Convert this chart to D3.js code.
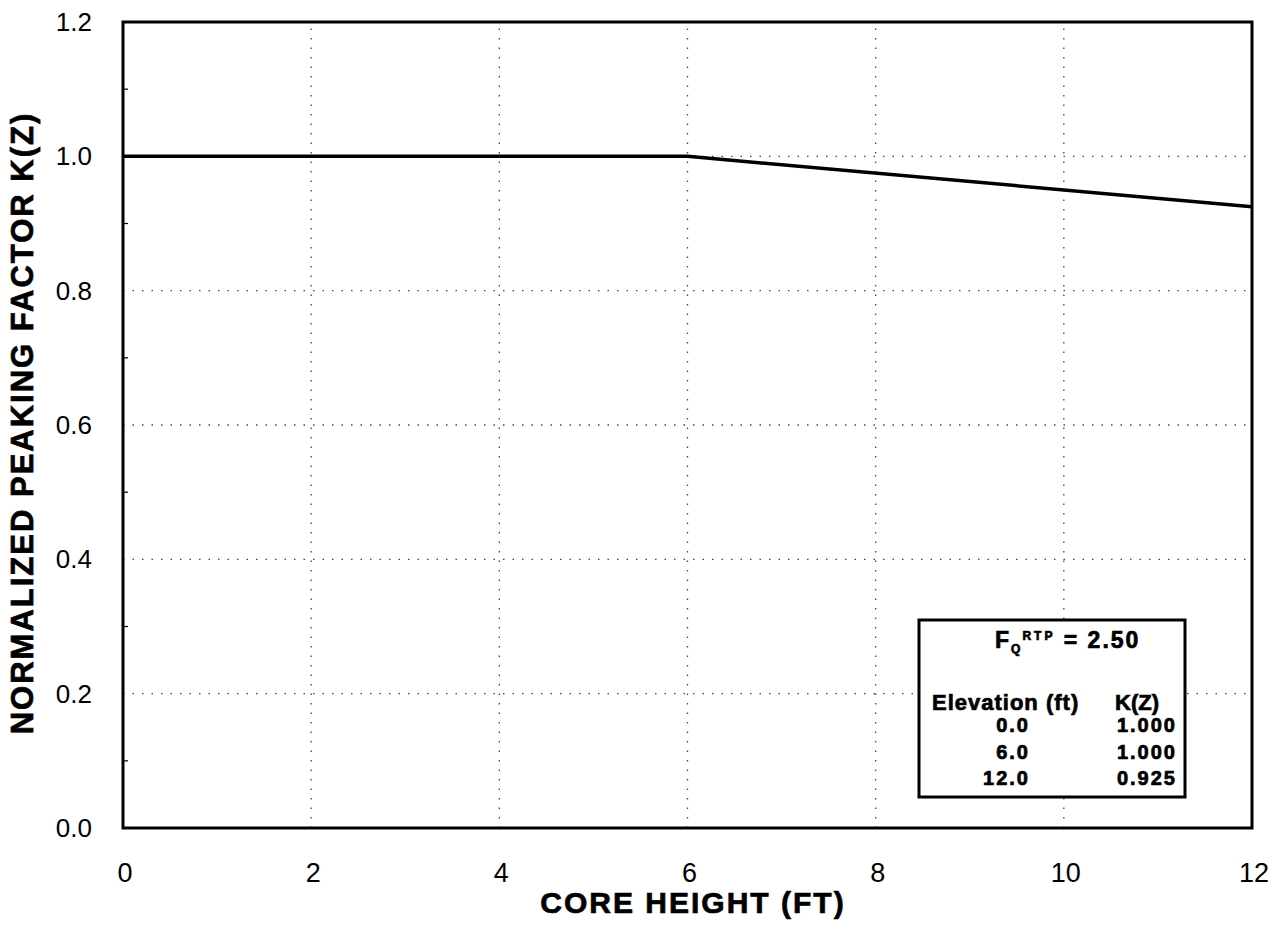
<!DOCTYPE html>
<html>
<head>
<meta charset="utf-8">
<script src="https://cdn.jsdelivr.net/npm/d3@7"></script>
<style>
  html, body { margin: 0; padding: 0; background: #fff; }
  svg text { font-family: "Liberation Sans", Arial, sans-serif; fill: #000; }
  svg text.heavy { stroke: #000; stroke-width: 0.7px; }
</style>
</head>
<body>
<div id="chart"></div>
<script>
// data
const elevations = [0, 6, 12];
const kzValues = [1.0, 1.0, 0.925];
const xTicks = [0, 2, 4, 6, 8, 10, 12];
const yTicks = [0.0, 0.2, 0.4, 0.6, 0.8, 1.0, 1.2];
const yMinorTicks = [0.1, 0.3, 0.5, 0.7, 0.9, 1.1];
const tableHeader = ['Elevation (ft)', 'K(Z)'];
const fqValue = '2.50';

const width = 1276, height = 943;
const margin = { top: 22, right: 24, bottom: 115, left: 123 };

const svg = d3.select('#chart').append('svg')
  .attr('width', width)
  .attr('height', height);

const x = d3.scaleLinear().domain([0, 12]).range([margin.left, width - margin.right]);
const y = d3.scaleLinear().domain([0, 1.2]).range([height - margin.bottom, margin.top]);

// dotted grid
svg.append('g')
  .selectAll('line')
  .data(xTicks.slice(1, -1))
  .join('line')
  .attr('x1', d => x(d)).attr('x2', d => x(d))
  .attr('y1', y(0)).attr('y2', y(1.2))
  .attr('stroke', '#444')
  .attr('stroke-width', 1.3)
  .attr('stroke-dasharray', '1.5,8');

svg.append('g')
  .selectAll('line')
  .data(yTicks.slice(1, -1))
  .join('line')
  .attr('x1', x(0)).attr('x2', x(12))
  .attr('y1', d => y(d)).attr('y2', d => y(d))
  .attr('stroke', '#444')
  .attr('stroke-width', 1.3)
  .attr('stroke-dasharray', '1.5,8');

// minor ticks on y axis (inside)
svg.append('g')
  .selectAll('line')
  .data(yMinorTicks)
  .join('line')
  .attr('x1', x(0)).attr('x2', x(0) + 5)
  .attr('y1', d => y(d)).attr('y2', d => y(d))
  .attr('stroke', '#000')
  .attr('stroke-width', 1.2);

// frame
svg.append('rect')
  .attr('x', x(0))
  .attr('y', y(1.2))
  .attr('width', x(12) - x(0))
  .attr('height', y(0) - y(1.2))
  .attr('fill', 'none')
  .attr('stroke', '#000')
  .attr('stroke-width', 3);

// data line
const line = d3.line()
  .x((d, i) => x(elevations[i]))
  .y(d => y(d));

svg.append('path')
  .datum(kzValues)
  .attr('d', line)
  .attr('fill', 'none')
  .attr('stroke', '#000')
  .attr('stroke-width', 3.5);

// tick labels
svg.append('g')
  .selectAll('text')
  .data(xTicks)
  .join('text')
  .attr('x', d => x(d) + 2)
  .attr('y', y(0) + 54)
  .attr('text-anchor', 'middle')
  .style('font-size', '27px')
  .text(d => d);

svg.append('g')
  .selectAll('text')
  .data(yTicks)
  .join('text')
  .attr('x', x(0) - 31)
  .attr('y', d => y(d) + 9)
  .attr('text-anchor', 'end')
  .style('font-size', '26px')
  .text(d => d.toFixed(1));

// axis titles
svg.append('text')
  .attr('class', 'heavy')
  .attr('x', 693)
  .attr('y', 913)
  .attr('text-anchor', 'middle')
  .style('font-size', '30px')
  .style('font-weight', 'bold')
  .style('letter-spacing', '2px')
  .text('CORE HEIGHT (FT)');

svg.append('text')
  .attr('class', 'heavy')
  .attr('transform', `translate(33,423) rotate(-90)`)
  .attr('text-anchor', 'middle')
  .style('font-size', '31px')
  .style('font-weight', 'bold')
  .style('letter-spacing', '2px')
  .text('NORMALIZED PEAKING FACTOR K(Z)');

// legend box
const box = { x: 919, y: 620, w: 266, h: 177 };
const lg = svg.append('g');
lg.append('rect')
  .attr('x', box.x).attr('y', box.y)
  .attr('width', box.w).attr('height', box.h)
  .attr('fill', '#fff')
  .attr('stroke', '#000')
  .attr('stroke-width', 3);

const title = lg.append('text')
  .attr('class', 'heavy')
  .attr('x', box.x + 76)
  .attr('y', box.y + 28)
  .style('font-size', '23px')
  .style('font-weight', 'bold')
  .style('letter-spacing', '2px');
title.append('tspan').text('F');
title.append('tspan').attr('dy', 5).style('font-size', '12px').text('Q');
title.append('tspan').attr('dy', -13).style('font-size', '12px').style('letter-spacing', '3px').text('RTP');
title.append('tspan').attr('dy', 8).text(' = ' + fqValue);

lg.append('text')
  .attr('class', 'heavy')
  .attr('x', box.x + 13).attr('y', box.y + 90)
  .style('font-size', '22px').style('font-weight', 'bold')
  .style('letter-spacing', '1px')
  .text(tableHeader[0]);
lg.append('text')
  .attr('class', 'heavy')
  .attr('x', box.x + 196).attr('y', box.y + 90)
  .style('font-size', '22px').style('font-weight', 'bold')
  .text(tableHeader[1]);

elevations.forEach((e, i) => {
  const ty = box.y + 112 + i * 26.5;
  lg.append('text')
    .attr('class', 'heavy')
    .attr('x', box.x + 111).attr('y', ty)
    .attr('text-anchor', 'end')
    .style('font-size', '20px').style('font-weight', 'bold')
    .style('letter-spacing', '2px')
    .text(e.toFixed(1));
  lg.append('text')
    .attr('class', 'heavy')
    .attr('x', box.x + 258).attr('y', ty)
    .attr('text-anchor', 'end')
    .style('font-size', '20px').style('font-weight', 'bold')
    .style('letter-spacing', '2px')
    .text(kzValues[i].toFixed(3));
});
</script>
</body>
</html>
